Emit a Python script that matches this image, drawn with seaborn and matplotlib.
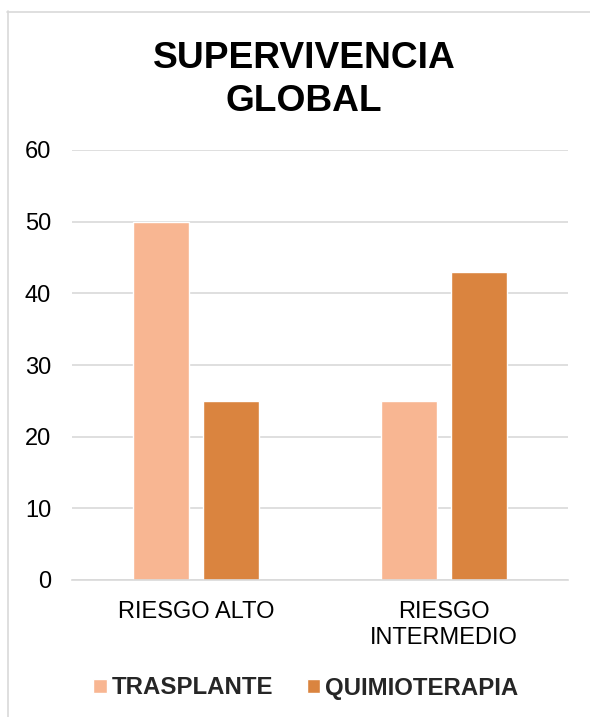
import matplotlib
matplotlib.use("Agg")
import matplotlib.pyplot as plt
import seaborn as sns
import pandas as pd
from matplotlib.lines import Line2D

categories = ["RIESGO ALTO", "RIESGO\nINTERMEDIO"]
series_names = ["TRASPLANTE", "QUIMIOTERAPIA"]
trasplante = [50, 25]
quimioterapia = [25, 43]
y_ticks = [0, 10, 20, 30, 40, 50, 60]
title = "SUPERVIVENCIA\nGLOBAL"
colors = ["#F8B692", "#DA843F"]

df = pd.DataFrame({
    "cat": categories * 2,
    "serie": [series_names[0]] * 2 + [series_names[1]] * 2,
    "val": trasplante + quimioterapia,
})

sns.set_theme(style="white")
plt.rcParams["font.family"] = ["Liberation Sans", "DejaVu Sans"]

W, H = 590, 717
fig = plt.figure(figsize=(W / 100, H / 100), dpi=100)
ax = fig.add_axes([72 / W, 1 - 580 / H, (568 - 72) / W, (580 - 150) / H])

sns.barplot(data=df, x="cat", y="val", hue="serie", palette=colors,
            width=0.565, gap=0.2, ax=ax, saturation=1, legend=True)

ax.set_ylim(0, 60)
ax.set_yticks(y_ticks)
ax.set_xlim(-0.5, 1.5)
ax.grid(axis="y", color="#D9D9D9", linewidth=1.2)
ax.set_axisbelow(True)
for s in ["top", "right", "left"]:
    ax.spines[s].set_visible(False)
ax.spines["bottom"].set_color("#D9D9D9")
ax.spines["bottom"].set_linewidth(1.2)
ax.tick_params(axis="y", length=0, pad=15, labelsize=17, labelcolor="#000000")
ax.tick_params(axis="x", length=0, pad=15, labelsize=17, labelcolor="#000000")
ax.set_xlabel("")
ax.set_ylabel("")
for lbl in ax.get_xticklabels():
    lbl.set_linespacing(1.22)

handles, labels = ax.get_legend_handles_labels()
ax.get_legend().remove()
fig.legend(handles, labels, loc="center", bbox_to_anchor=(306 / W, 1 - 688 / H),
           ncol=2, frameon=False, prop={"weight": "bold", "size": 17.3},
           handlelength=0.55, handleheight=0.55, handletextpad=0.22,
           columnspacing=1.4, borderpad=0)

fig.text(304 / W, 1 - 80 / H, title, ha="center", va="center",
         fontsize=26.7, fontweight="bold", linespacing=1.32, color="#000000")

fig.add_artist(Line2D([7.5 / W, 7.5 / W], [0, 1 - 11 / H], transform=fig.transFigure,
                      color="#D9D9D9", linewidth=1.2))
fig.add_artist(Line2D([7 / W, 1], [1 - 11.5 / H, 1 - 11.5 / H], transform=fig.transFigure,
                      color="#D9D9D9", linewidth=1.2))

fig.savefig("out.png", dpi=100)
